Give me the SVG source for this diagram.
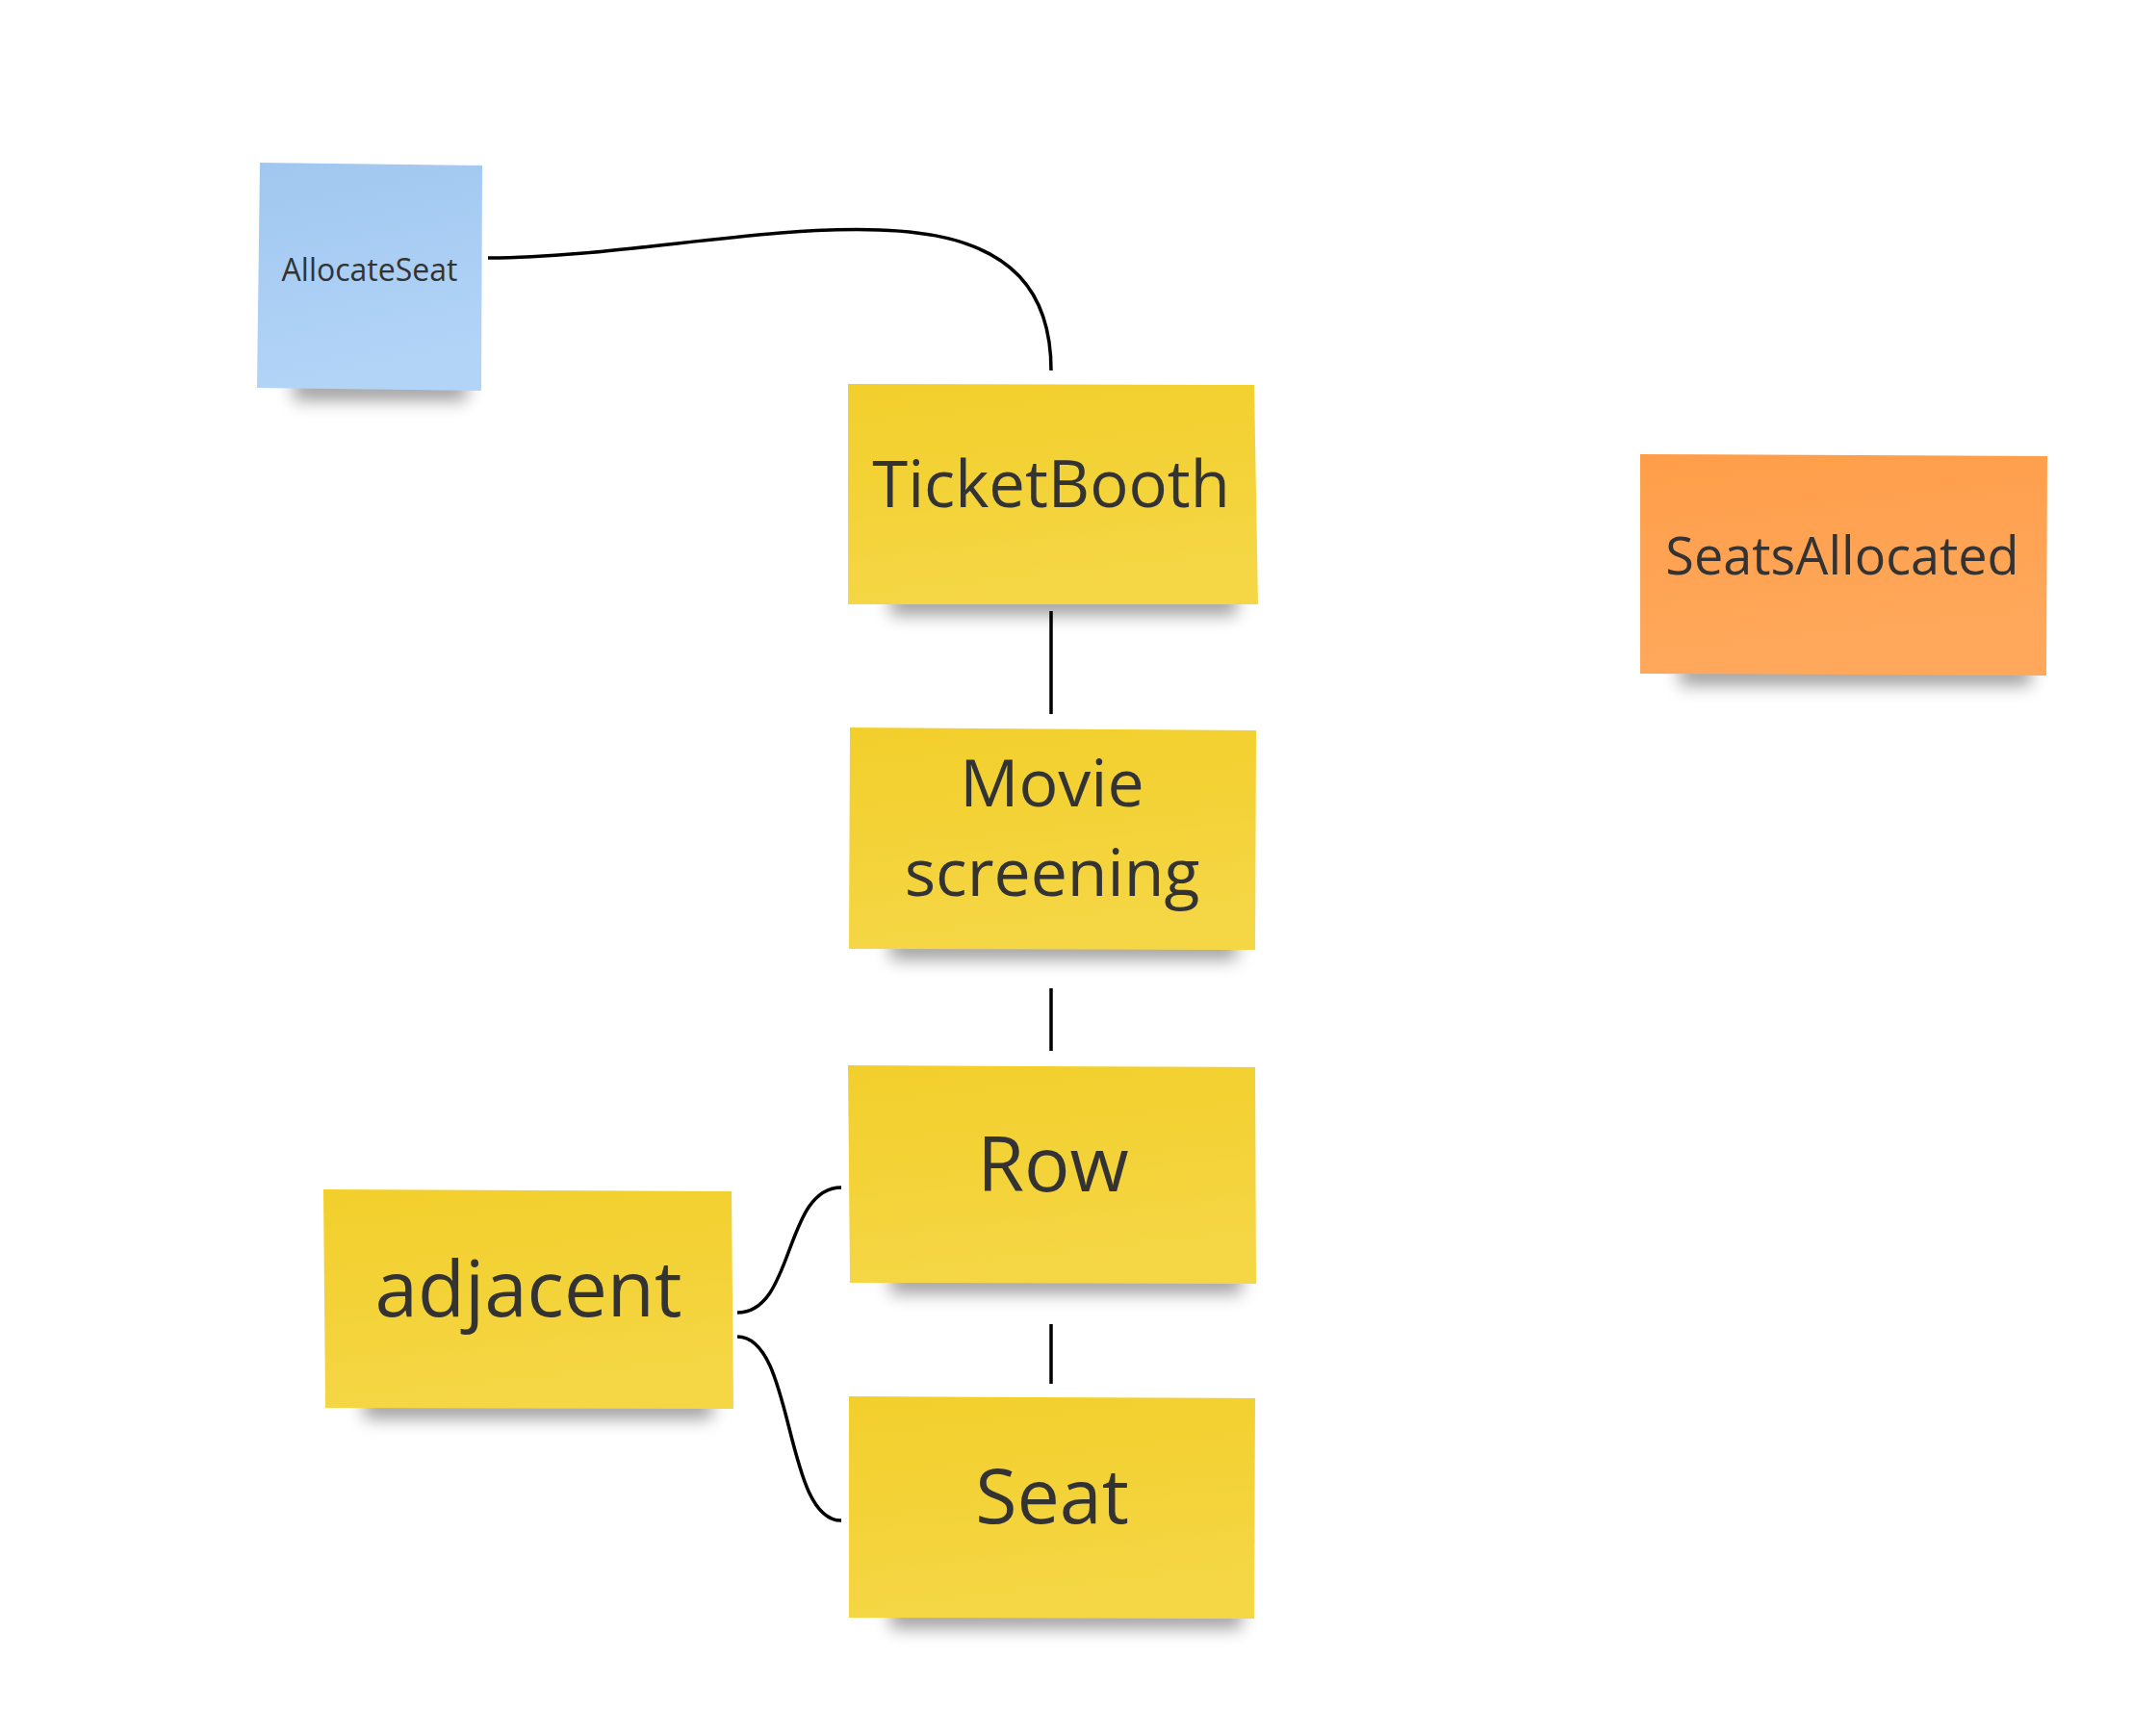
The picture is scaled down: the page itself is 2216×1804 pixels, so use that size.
<svg xmlns="http://www.w3.org/2000/svg" width="2216" height="1804" viewBox="0 0 2216 1804">
<style>
.t{font-family:"Open Sans","Noto Sans","DejaVu Sans",sans-serif;fill:#333333;text-anchor:middle}
.c{fill:none;stroke:#000;stroke-width:3.5;stroke-linecap:butt}
.sh{fill:#000;opacity:0.38;filter:url(#blur)}
</style>
<defs>
<filter id="blur" x="-20%" y="-150%" width="140%" height="400%"><feGaussianBlur stdDeviation="9"/></filter>
<linearGradient id="gy" x1="0" y1="0" x2="0.2" y2="1"><stop offset="0" stop-color="#f2cf2b"/><stop offset="1" stop-color="#f5d645"/></linearGradient>
<linearGradient id="gb" x1="0" y1="0" x2="0.2" y2="1"><stop offset="0" stop-color="#a1c7f0"/><stop offset="1" stop-color="#b2d4f7"/></linearGradient>
<linearGradient id="go" x1="0" y1="0" x2="0.2" y2="1"><stop offset="0" stop-color="#fe9e4a"/><stop offset="1" stop-color="#ffa85c"/></linearGradient>
</defs>
<rect width="2216" height="1804" fill="#ffffff"/>
<g id="AllocateSeat">
<rect class="sh" x="305" y="392" width="180" height="24"/>
<polygon points="270,169 501,172 500,406 267,403" fill="url(#gb)"/>
<text class="t" x="384" y="292" font-size="32">AllocateSeat</text>
</g>
<g id="TicketBooth">
<rect class="sh" x="925" y="615" width="360" height="24"/>
<polygon points="881,399 1303,400 1307,628 881,628" fill="url(#gy)"/>
<text class="t" x="1092" y="527" font-size="67">TicketBooth</text>
</g>
<g id="MovieScreening">
<rect class="sh" x="925" y="973" width="360" height="24"/>
<polygon points="883,756 1305,759 1304,987 882,986" fill="url(#gy)"/>
<text class="t" x="1093" y="838" font-size="68">Movie</text>
<text class="t" x="1093" y="931" font-size="68">screening</text>
</g>
<g id="Row">
<rect class="sh" x="925" y="1320" width="365" height="24"/>
<polygon points="881,1107 1304,1109 1305,1334 883,1333" fill="url(#gy)"/>
<text class="t" x="1094" y="1238" font-size="79">Row</text>
</g>
<g id="Seat">
<rect class="sh" x="925" y="1668" width="365" height="24"/>
<polygon points="882,1451 1304,1453 1303,1682 882,1681" fill="url(#gy)"/>
<text class="t" x="1093" y="1583" font-size="79">Seat</text>
</g>
<g id="adjacent">
<rect class="sh" x="378" y="1450" width="362" height="24"/>
<polygon points="336,1236 760,1238 762,1464 338,1463" fill="url(#gy)"/>
<text class="t" x="549" y="1368" font-size="80">adjacent</text>
</g>
<g id="SeatsAllocated">
<rect class="sh" x="1745" y="688" width="365" height="24"/>
<polygon points="1704,472 2127,474 2126,702 1704,700" fill="url(#go)"/>
<text class="t" x="1914" y="597" font-size="54">SeatsAllocated</text>
</g>
<g id="connectors">
<path class="c" d="M507,268 C750,268 1092,150 1092,385"/>
<path class="c" d="M1092,635 L1092,742"/>
<path class="c" d="M1092,1027 L1092,1092"/>
<path class="c" d="M1092,1376 L1092,1438"/>
<path class="c" d="M766,1364 C826,1364 814,1234 874,1234"/>
<path class="c" d="M766,1389 C826,1389 814,1580 874,1580"/>
</g>
</svg>
